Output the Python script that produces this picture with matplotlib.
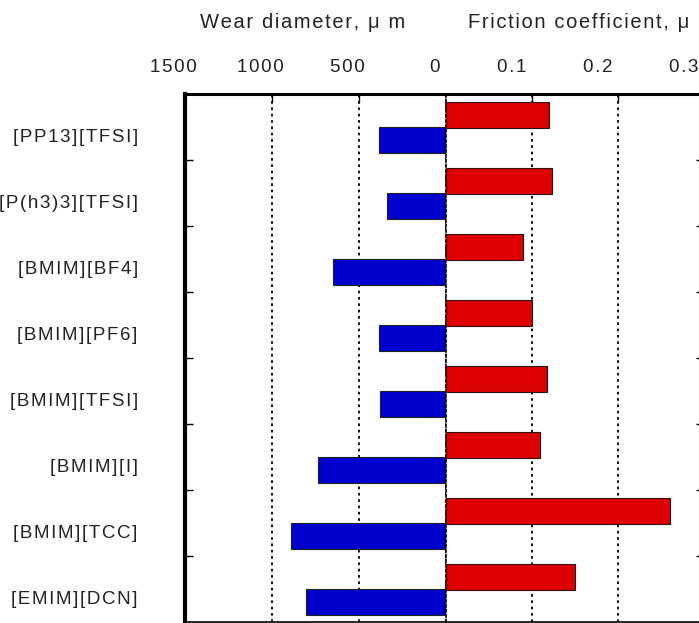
import matplotlib
matplotlib.use("Agg")
import matplotlib.pyplot as plt
import matplotlib.transforms as mtransforms

liquids = ["[PP13][TFSI]", "[P(h3)3][TFSI]", "[BMIM][BF4]", "[BMIM][PF6]",
           "[BMIM][TFSI]", "[BMIM][I]", "[BMIM][TCC]", "[EMIM][DCN]"]
wear_um = [385, 339, 649, 387, 381, 736, 891, 805]
friction = [0.120, 0.123, 0.090, 0.100, 0.118, 0.109, 0.260, 0.150]
wear_ticks = [1500, 1000, 500, 0]
friction_ticks = [0.1, 0.2, 0.3]

plt.rcParams["font.family"] = ["Liberation Sans", "DejaVu Sans"]


def spaced(s):
    # the original figure shows wide letter spacing
    return "\u200a".join(s)


W, H = 699, 623
fig = plt.figure(figsize=(W / 100, H / 100), dpi=100)

ax_w = fig.add_axes([185 / W, 1 / H, 261 / W, 528 / H])
ax_f = fig.add_axes([446 / W, 1 / H, 258 / W, 528 / H], sharey=ax_w)

n = len(liquids)
pos = list(range(n))
bar_h = 0.387
red_y = [p + 0.315 for p in pos]
blue_y = [p + 0.70 for p in pos]

ax_w.barh(blue_y, wear_um, height=bar_h, color="#0000cc", edgecolor="#222222", linewidth=0.8, zorder=3)
ax_f.barh(red_y, friction, height=bar_h, color="#dd0000", edgecolor="#331111", linewidth=0.8, zorder=3)

ax_w.set_xlim(1500, 0)
ax_f.set_xlim(0, 0.3)
ax_w.set_ylim(n, 0)

for ax in (ax_w, ax_f):
    ax.xaxis.tick_top()
    ax.tick_params(axis="x", direction="in", length=6, width=1, pad=13, labelsize=13.5,
                   labelcolor="#222222")
    ax.grid(axis="x", color="black", linestyle=(0, (1.5, 2.0)), linewidth=1.3, zorder=1)
    ax.spines["top"].set_linewidth(2.2)
    ax.spines["bottom"].set_linewidth(1.2)

ax_w.set_xticks(wear_ticks)
ax_w.set_xticklabels([spaced(str(t)) for t in wear_ticks])
ax_f.set_xticks(friction_ticks)
ax_f.set_xticklabels([spaced(f"{t:.1f}") for t in friction_ticks])

# tick labels sit a little left of their grid lines in the original
shift_w = mtransforms.ScaledTranslation(-12 / 100, 0, fig.dpi_scale_trans)
shift_f = mtransforms.ScaledTranslation(-20 / 100, 0, fig.dpi_scale_trans)
for lab in ax_w.get_xticklabels():
    lab.set_transform(lab.get_transform() + shift_w)
for lab in ax_f.get_xticklabels():
    lab.set_transform(lab.get_transform() + shift_f)

ax_w.spines["left"].set_linewidth(3)
ax_w.spines["right"].set_visible(False)
ax_f.spines["left"].set_linestyle((0, (1.5, 1.5)))
ax_f.spines["left"].set_linewidth(1.2)
ax_f.spines["right"].set_linewidth(1.2)

ax_w.set_yticks(range(1, n))
ax_w.set_yticks([p + 0.63 for p in pos], minor=True)
ax_w.set_yticklabels([], minor=False)
ax_w.set_yticklabels([spaced(s) for s in liquids], minor=True)
ax_w.tick_params(axis="y", which="major", direction="in", length=6, width=1)
ax_w.tick_params(axis="y", which="minor", length=0, pad=34, labelsize=13.5,
                 labelcolor="#222222")

ax_f.tick_params(axis="y", which="both", left=False, labelleft=False,
                 right=True, direction="in", length=6, width=1)
ax_f.tick_params(axis="y", which="minor", right=False)

fig.text(303 / W, 1 - 22 / H, spaced("Wear diameter, μ m"), ha="center", va="center",
         fontsize=14.5, color="#222222")
fig.text(468 / W, 1 - 22 / H, spaced("Friction coefficient, μ"), ha="left", va="center",
         fontsize=14.5, color="#222222")

fig.savefig("out.png", dpi=100)
